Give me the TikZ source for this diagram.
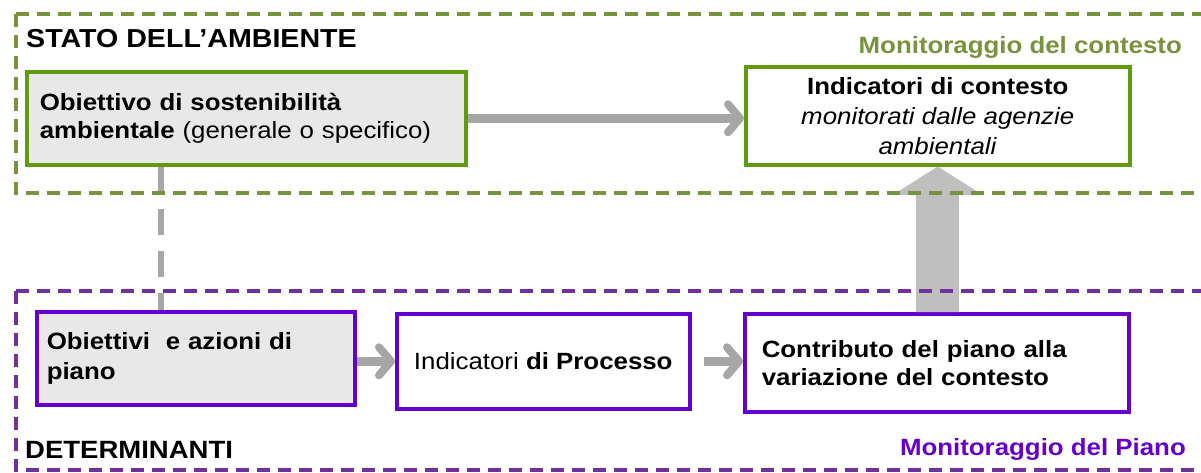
\documentclass[tikz,border=0pt]{standalone}
\usepackage{fontspec}
\setmainfont{Liberation Sans}[FakeStretch=1.1]
\usetikzlibrary{arrows.meta,calc,shadows}
\definecolor{frameG}{HTML}{77933C}
\definecolor{boxG}{HTML}{5E9C0E}
\definecolor{frameP}{HTML}{7030A0}
\definecolor{boxP}{HTML}{6600CC}
\definecolor{boxgray}{HTML}{E8E8E8}
\definecolor{arrgray}{HTML}{A6A6A6}
\definecolor{bigarrgray}{HTML}{BFBFBF}
\begin{document}
\begin{tikzpicture}[x=1pt,y=-1pt,
  body/.style={font=\fontsize{23.5pt}{28pt}\selectfont},
  titlefont/.style={font=\fontsize{26pt}{30pt}\selectfont\bfseries, inner sep=0pt},
  monfont/.style={font=\fontsize{23.5pt}{28pt}\selectfont\bfseries, inner sep=0pt},
  gbox/.style={draw=boxG, line width=3.5pt, rectangle, anchor=north west, inner ysep=0pt, body},
  pbox/.style={draw=boxP, line width=3.5pt, rectangle, anchor=north west, inner ysep=0pt, body},
  grayfill/.style={fill=boxgray, drop shadow={shadow xshift=1.5pt, shadow yshift=-1.5pt, opacity=0.45, fill=gray}},
  garrow/.style={draw=arrgray, line width=9pt, -{Straight Barb[length=12pt, width=28pt, line width=8pt, round]}},
  vdash/.style={draw=arrgray, line width=6pt, dash pattern=on 26pt off 16pt},
  bigarrow/.style={fill=bigarrgray},
  gframe/.style={draw=frameG, line width=4pt, dash pattern=on 13pt off 8pt},
  pframe/.style={draw=frameP, line width=4pt, dash pattern=on 13pt off 8pt}
]
\useasboundingbox (0,0) rectangle (1201,472);
\clip (0,0) rectangle (1201,472);
\fill[white] (0,0) rectangle (1201,472);

% boxes
\node[gbox, grayfill, minimum width=439pt, minimum height=93pt, inner xsep=13pt, text width=413pt, align=left] (g1) at (25,70)
  {\textbf{Obiettivo di sostenibilità}\\\textbf{ambientale} (generale o specifico)};
\node[gbox, fill=white, minimum width=384pt, minimum height=98pt, align=center, font=\fontsize{23.5pt}{30pt}\selectfont] (g2) at (744,65)
  {\textbf{Indicatori di contesto}\\\textit{monitorati dalle agenzie}\\\textit{ambientali}};
\node[pbox, grayfill, minimum width=318pt, minimum height=93pt, inner xsep=10pt, text width=298pt, align=left, font=\fontsize{23.5pt}{30pt}\selectfont\bfseries] (p1) at (35,310)
  {Obiettivi\ \ e azioni di\\piano};
\node[pbox, fill=white, minimum width=293pt, minimum height=95pt, align=center] (p2) at (395,312)
  {Indicatori \textbf{di Processo}};
\node[pbox, fill=white, minimum width=384pt, minimum height=98pt, inner xsep=17pt, text width=350pt, align=left, font=\fontsize{23.5pt}{28pt}\selectfont\bfseries] (p3) at (743,312)
  {Contributo del piano alla\\variazione del contesto};

% connectors
\draw[vdash] ($(g1.south west)+(136,0)$) -- ($(p1.north west)+(126,0)$);
\draw[garrow] (g1.east) -- (g1.east -| g2.west);
\draw[garrow] (p1.east |- p2.west) -- (p2.west);
\draw[garrow, shorten <=12pt] (p2.east) -- (p2.east -| p3.west);
\fill[bigarrow] ($(p3.north)+(-21,0)$) -- ($(p3.north)+(-21,-117)$) -- ($(p3.north)+(-44,-117)$)
  -- (g2.south) -- ($(p3.north)+(46,-117)$) -- ($(p3.north)+(22,-117)$) -- ($(p3.north)+(22,0)$) -- cycle;

% frames
\draw[gframe] (16,14) rectangle (1240,193);
\draw[pframe] (16,291) rectangle (1240,470);

% labels
\node[titlefont, anchor=base west] (stato) at (26,47) {STATO DELL’AMBIENTE};
\node[monfont, text=frameG, anchor=base east] (moncont) at (1182,53) {Monitoraggio del contesto};
\node[titlefont, font=\fontsize{25pt}{30pt}\selectfont\bfseries, anchor=base west] (determ) at (25,458) {DETERMINANTI};
\node[monfont, text=boxP, anchor=base east] (monpiano) at (1186,455) {Monitoraggio del Piano};
\end{tikzpicture}
\end{document}
